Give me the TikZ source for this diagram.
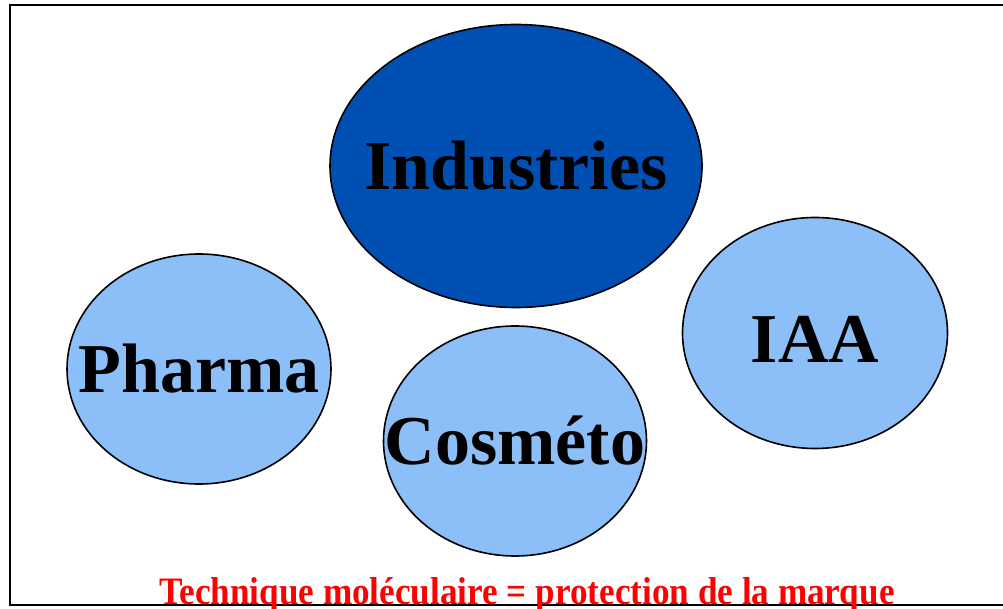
\documentclass[tikz,border=0pt]{standalone}
\usepackage{fontspec}
\setmainfont{Liberation Serif}
\usetikzlibrary{shapes.geometric}
\definecolor{darkblue}{RGB}{0,80,180}
\definecolor{lightblue}{RGB}{140,190,248}
\tikzset{
  bubble/.style={ellipse, draw=black, line width=1.6pt, inner sep=0pt, fill=lightblue},
  word/.style={font=\fontsize{70}{70}\selectfont\bfseries, inner sep=0pt},
  note/.style={text=red, font=\bfseries, inner sep=0pt, anchor=base}
}
\begin{document}
\begin{tikzpicture}[x=1pt,y=-1pt]
\useasboundingbox (0,0) rectangle (1003,609);
\draw[line width=2pt] (10,5) rectangle (1012,605);

\node[bubble, fill=darkblue, minimum width=372pt, minimum height=283pt] (ind) at (516,166) {};
\node[bubble, minimum width=264pt, minimum height=230pt] (pharma) at (199,369) {};
\node[bubble, minimum width=263pt, minimum height=230pt] (cosmeto) at (515,441) {};
\node[bubble, minimum width=265pt, minimum height=231pt] (iaa) at (815,333) {};

\node[word] (indtxt) at (ind) {Industries};
\node[word] (pharmatxt) at (pharma) {Pharma};
\node[word] (cosmetotxt) at (cosmeto) {Cosméto};
\node[word] (iaatxt) at ([yshift=-6pt]iaa) {IAA};

\node[note] (marque) at (527,604) {\resizebox{735pt}{27pt}{Technique moléculaire = protection de la marque}};
\end{tikzpicture}
\end{document}
